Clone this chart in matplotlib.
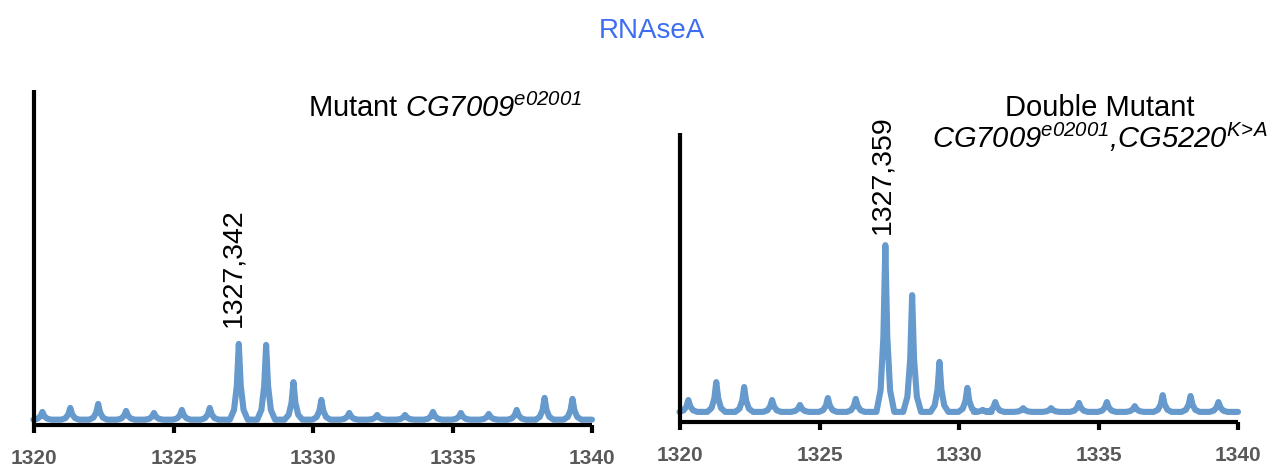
import matplotlib
matplotlib.use("Agg")
import matplotlib.pyplot as plt

plt.rcParams['font.family'] = ['Liberation Sans', 'DejaVu Sans']
plt.rcParams['mathtext.fontset'] = 'custom'
plt.rcParams['mathtext.rm'] = 'Liberation Sans:italic'
plt.rcParams['mathtext.it'] = 'Liberation Sans:italic'
plt.rcParams['mathtext.bf'] = 'Liberation Sans:bold:italic'

# ---------------- data ----------------
title = "RNAseA"
x_ticks = [1320, 1325, 1330, 1335, 1340]

left_title = r"Mutant $CG7009^{e02001}$"
left_label = "1327,342"
left_label_mz = 1327.34
left_baseline = 1.6
left_peak_mz = [1320.3, 1321.3, 1322.3, 1323.3, 1324.3, 1325.3, 1326.3, 1327.34,
                1328.32, 1329.3, 1330.3, 1331.3, 1332.3, 1333.3, 1334.3, 1335.3,
                1336.3, 1337.3, 1338.3, 1339.3]
left_peak_int = [3.9, 5.1, 6.3, 4.2, 3.6, 4.5, 5.1, 24.2,
                 23.9, 12.8, 7.5, 3.6, 3.0, 3.0, 3.9, 3.6,
                 3.3, 4.5, 8.1, 7.8]

right_title_1 = "Double Mutant"
right_title_2 = r"$CG7009^{e02001}{,}CG5220^{K\!>\!A}$"
right_label = "1327,359"
right_label_mz = 1327.36
right_baseline = 3.5
right_peak_mz = [1320.3, 1321.3, 1322.3, 1323.3, 1324.3, 1325.3, 1326.3, 1327.36,
                 1328.32, 1329.3, 1330.3, 1330.85, 1331.3, 1332.3, 1333.3, 1334.3,
                 1335.3, 1336.3, 1337.3, 1338.3, 1339.3]
right_peak_int = [7.6, 13.8, 12.1, 7.6, 5.9, 8.3, 8.0, 61.2,
                  43.9, 20.8, 11.8, 4.2, 6.9, 4.8, 4.8, 6.6,
                  6.9, 5.5, 9.3, 9.0, 6.9]

# peak profile (style of drawn peak shape)
prof_dx = [-0.32, -0.17, -0.07, 0.0, 0.07, 0.17, 0.32]
prof_fr = [0.0, 0.13, 0.45, 1.0, 0.45, 0.13, 0.0]

LINE_COLOR = '#6699cc'
W, H = 1271, 467


def spectrum(mz, inten, base, lo=1320, hi=1340):
    xs, ys = [lo], [base]
    for c, h in sorted(zip(mz, inten)):
        for dx, fr in zip(prof_dx, prof_fr):
            xs.append(c + dx)
            ys.append(base + (h - base) * fr)
    xs.append(hi)
    ys.append(base)
    return xs, ys


fig = plt.figure(figsize=(W / 100, H / 100), dpi=100)


def make_ax(left_px, right_px, top_px, axis_px):
    ax = fig.add_axes([left_px / W, 1 - axis_px / H,
                       (right_px - left_px) / W, (axis_px - top_px) / H])
    ax.set_xlim(1320, 1340)
    ax.set_ylim(0, 100)
    for s in ['top', 'right']:
        ax.spines[s].set_visible(False)
    for s in ['left', 'bottom']:
        ax.spines[s].set_linewidth(3)
        ax.spines[s].set_color('black')
        ax.spines[s].set_capstyle('butt')
    ax.set_xticks(x_ticks)
    ax.set_xticklabels([str(t) for t in x_ticks], fontsize=15, fontweight='bold',
                       color='#595959')
    ax.tick_params(axis='x', direction='out', length=6, width=3, pad=11)
    ax.set_yticks([])
    ax.patch.set_alpha(0)
    return ax


axL = make_ax(34, 592, 90, 425)
axR = make_ax(680, 1238, 133, 422)

for ax, mz, it, base in [(axL, left_peak_mz, left_peak_int, left_baseline),
                         (axR, right_peak_mz, right_peak_int, right_baseline)]:
    xs, ys = spectrum(mz, it, base)
    ax.plot(xs, ys, color=LINE_COLOR, lw=4.4, solid_joinstyle='round',
            solid_capstyle='round', clip_on=False, zorder=1)

# peak labels
axL.annotate(left_label, xy=(left_label_mz, max(left_peak_int)), xytext=(-4, 12),
             textcoords='offset points', rotation=90, ha='center', va='bottom',
             fontsize=20.5, color='black')
axR.annotate(right_label, xy=(right_label_mz, max(right_peak_int)), xytext=(-2, 8),
             textcoords='offset points', rotation=90, ha='center', va='bottom',
             fontsize=20.5, color='black')

# titles
fig.text(652 / W, 1 - 38 / H, title, ha='center', va='baseline', fontsize=20,
         color='#3d6df2')
fig.text(582 / W, 1 - 117 / H, left_title, ha='right', va='baseline', fontsize=21)
fig.text(1100 / W, 1 - 116 / H, right_title_1, ha='center', va='baseline', fontsize=21)
fig.text(1100 / W, 1 - 148 / H, right_title_2, ha='center', va='baseline', fontsize=21)

fig.savefig('out.png', dpi=100)
